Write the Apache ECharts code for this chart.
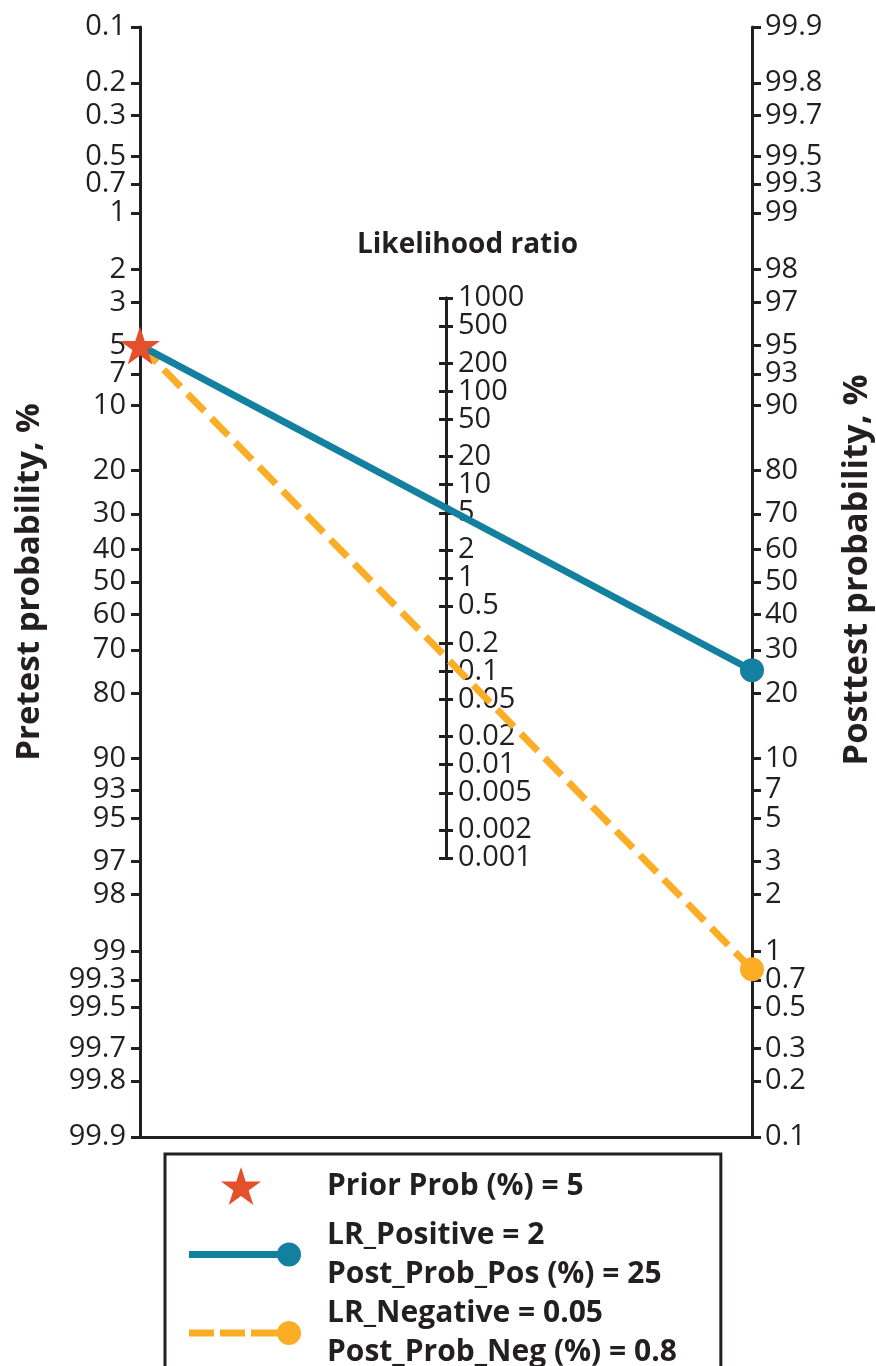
<!DOCTYPE html>
<html>
<head>
<meta charset="utf-8">
<title>Fagan nomogram</title>
<script src="https://cdn.jsdelivr.net/npm/echarts@6/dist/echarts.min.js"></script>
<style>
  html, body { margin: 0; padding: 0; background: #fff; }
  #chart { width: 876px; height: 1366px; }
</style>
</head>
<body>
<div id="chart"></div>
<script>
// 刻度：验前概率、验后概率（%）和似然比
const pretestTicks = [0.1, 0.2, 0.3, 0.5, 0.7, 1, 2, 3, 5, 7, 10, 20, 30, 40, 50, 60, 70, 80, 90, 93, 95, 97, 98, 99, 99.3, 99.5, 99.7, 99.8, 99.9];
const posttestTicks = [99.9, 99.8, 99.7, 99.5, 99.3, 99, 98, 97, 95, 93, 90, 80, 70, 60, 50, 40, 30, 20, 10, 7, 5, 3, 2, 1, 0.7, 0.5, 0.3, 0.2, 0.1];
const lrTicks = [1000, 500, 200, 100, 50, 20, 10, 5, 2, 1, 0.5, 0.2, 0.1, 0.05, 0.02, 0.01, 0.005, 0.002, 0.001];
// 紧挨着两端的标签放到另一条轴上，免得被 ECharts 当作重叠隐藏
const lrEdgeNeighbours = [500, 0.002];

// 数据
const priorProb = 5;
const lrPositive = 2;
const postProbPos = 25;
const lrNegative = 0.05;
const postProbNeg = 0.8;

const legendNames = ['Prior Prob', 'LR_Positive', 'LR_Negative'];
const legendTexts = [
    'Prior Prob (%) = ' + priorProb,
    'LR_Positive = ' + lrPositive + '\nPost_Prob_Pos (%) = ' + postProbPos,
    'LR_Negative = ' + lrNegative + '\nPost_Prob_Neg (%) = ' + postProbNeg
];

const FONT = "'Open Sans', sans-serif";
const INK = '#231f20';
const BLUE = '#13809f';
const ORANGE = '#fbad26';
const RED = '#e4502c';

// 概率轴用 logit 刻度，似然比轴用 ln 刻度
const logit = p => Math.log(p / (100 - p));
const fromLogit = v => 100 / (1 + Math.exp(-v));
const pMin = logit(pretestTicks[0]);
const pMax = logit(pretestTicks[pretestTicks.length - 1]);
const EPS = 1e-6;
const lrMax = Math.log(lrTicks[0]) + EPS;
const lrMin = Math.log(lrTicks[lrTicks.length - 1]) - EPS;

const fmtProb = v => String(Number(fromLogit(v).toFixed(1)));
const fmtLR = v => String(Number(Math.exp(v).toPrecision(2)));

// 五角星路径（中心 cx, cy，外半径 R）
function starPoints(cx, cy, R) {
    const pts = [];
    for (let i = 0; i < 10; i++) {
        const r = i % 2 === 0 ? R : R * 0.382;
        const a = -Math.PI / 2 + i * Math.PI / 5;
        pts.push((cx + r * Math.cos(a)).toFixed(2) + ' ' + (cy + r * Math.sin(a)).toFixed(2));
    }
    return 'M' + pts.join(' L') + ' Z';
}
const STAR = 'path://' + starPoints(50, 50, 50);

// 图例图标（112 x 40），前两段是空路径，只用来撑开包围盒
const box = 'M0 0 Z M112 40 Z ';
const circleSeg = 'M88 20 A12 12 0 1 1 112 20 A12 12 0 1 1 88 20 Z';
const STAR_ICON = 'path://' + box + starPoints(52, 22, 21);
const BLUE_ICON = 'path://' + box + 'M0 16.5 H90 V23.5 H0 Z ' + circleSeg;
const ORANGE_ICON = 'path://' + box + 'M0 16.5 H25 V23.5 H0 Z M31 16.5 H56 V23.5 H31 Z M62 16.5 H90 V23.5 H62 Z ' + circleSeg;

const axisLineStyle = { show: true, onZero: false, lineStyle: { color: INK, width: 3 } };
const tickLabel = { fontFamily: FONT, fontSize: 29, lineHeight: 20, color: INK, showMinLabel: true, showMaxLabel: true };
const nameStyle = { fontFamily: FONT, fontSize: 33, fontWeight: 'bold', color: INK };
const legendText = { fontFamily: FONT, fontSize: 30, fontWeight: 'bold', color: INK,
                     lineHeight: 39, padding: [0, 0, 0, 21] };

const lrLabelMain = lrTicks.filter(v => lrEdgeNeighbours.indexOf(v) < 0);

const chart = echarts.init(document.getElementById('chart'));

const option = {
    animation: false,
    backgroundColor: '#fff',
    title: {
        text: 'Likelihood ratio',
        left: 352,
        top: 226,
        textStyle: { fontFamily: FONT, fontSize: 28, fontWeight: 'bold', color: INK }
    },
    grid: [
        { left: 140, right: 124, top: 27, bottom: 229, outerBoundsMode: 'none' },
        { left: 446, width: 0, top: 298, height: 560, outerBoundsMode: 'none' }
    ],
    xAxis: [
        { gridIndex: 0, type: 'value', min: 0, max: 1, axisLine: axisLineStyle,
          axisTick: { show: false }, axisLabel: { show: false }, splitLine: { show: false } },
        { gridIndex: 1, type: 'value', min: 0, max: 1, show: false }
    ],
    yAxis: [
        {   // 验前概率（左）
            gridIndex: 0, type: 'value', position: 'left', inverse: true,
            min: pMin, max: pMax,
            name: 'Pretest probability, %', nameLocation: 'middle', nameRotate: 90, nameGap: 94,
            nameMoveOverlap: false, nameTextStyle: nameStyle,
            axisLine: axisLineStyle,
            axisTick: { show: true, length: 9, lineStyle: { color: INK, width: 3 },
                        customValues: pretestTicks.map(logit) },
            axisLabel: Object.assign({ margin: 14, formatter: fmtProb,
                        customValues: pretestTicks.map(logit) }, tickLabel),
            splitLine: { show: false }
        },
        {   // 验后概率（右）
            gridIndex: 0, type: 'value', position: 'right',
            min: pMin, max: pMax,
            name: 'Posttest probability, %', nameLocation: 'middle', nameRotate: 90, nameGap: 88,
            nameMoveOverlap: false,
            nameTextStyle: Object.assign({}, nameStyle, { fontSize: 34.5, padding: [0, 0, 0, 24] }),
            axisLine: axisLineStyle,
            axisTick: { show: true, length: 9, lineStyle: { color: INK, width: 3 },
                        customValues: posttestTicks.map(logit) },
            axisLabel: Object.assign({ margin: 13, formatter: fmtProb,
                        customValues: posttestTicks.map(logit) }, tickLabel),
            splitLine: { show: false }
        },
        {   // 似然比（中间，左侧刻度）
            gridIndex: 1, type: 'value', position: 'left', min: lrMin, max: lrMax,
            axisLine: axisLineStyle,
            axisTick: { show: true, length: 7, lineStyle: { color: INK, width: 3 },
                        customValues: lrTicks.map(Math.log) },
            axisLabel: { show: false },
            splitLine: { show: false }
        },
        {   // 似然比（中间，右侧刻度 + 标签）
            gridIndex: 1, type: 'value', position: 'right', min: lrMin, max: lrMax,
            axisLine: axisLineStyle,
            axisTick: { show: true, length: 7, lineStyle: { color: INK, width: 3 },
                        customValues: lrTicks.map(Math.log) },
            axisLabel: Object.assign({ margin: 12, formatter: fmtLR,
                        customValues: lrLabelMain.map(Math.log) }, tickLabel),
            splitLine: { show: false }
        },
        {   // 似然比（中间，补上 500 和 0.002 的标签）
            gridIndex: 1, type: 'value', position: 'right', min: lrMin, max: lrMax,
            axisLine: { show: false },
            axisTick: { show: false },
            axisLabel: Object.assign({ margin: 12, formatter: fmtLR,
                        customValues: lrEdgeNeighbours.map(Math.log) }, tickLabel),
            splitLine: { show: false }
        }
    ],
    legend: {
        orient: 'vertical',
        left: 165,
        top: 1154,
        height: 300,
        padding: [3, 44, 80, 24],
        borderColor: INK,
        borderWidth: 3,
        itemWidth: 112,
        itemHeight: 40,
        itemGap: 0.5,
        selectedMode: false,
        itemStyle: { borderWidth: 0 },
        data: [
            { name: legendNames[0], icon: STAR_ICON, textStyle: Object.assign({}, legendText, { lineHeight: 58 }) },
            { name: legendNames[1], icon: BLUE_ICON },
            { name: legendNames[2], icon: ORANGE_ICON }
        ],
        formatter: name => legendTexts[legendNames.indexOf(name)],
        textStyle: legendText
    },
    series: [
        {
            // 右端点：验后刻度是验前刻度的镜像，所以取 -logit
            name: legendNames[2], type: 'line', xAxisIndex: 0, yAxisIndex: 0, clip: false,
            data: [{ value: [0, logit(priorProb)], symbol: 'none' }, { value: [1, -logit(postProbNeg)] }],
            symbol: 'circle', symbolSize: 24,
            lineStyle: { color: ORANGE, width: 7, type: [24, 10] },
            itemStyle: { color: ORANGE }
        },
        {
            name: legendNames[1], type: 'line', xAxisIndex: 0, yAxisIndex: 0, clip: false,
            data: [{ value: [0, logit(priorProb)], symbol: 'none' }, { value: [1, -logit(postProbPos)] }],
            symbol: 'circle', symbolSize: 24,
            lineStyle: { color: BLUE, width: 7 },
            itemStyle: { color: BLUE }
        },
        {
            name: legendNames[0], type: 'scatter', xAxisIndex: 0, yAxisIndex: 0, clip: false, z: 5,
            data: [[0, logit(priorProb)]],
            symbol: STAR, symbolSize: [40, 38],
            itemStyle: { color: RED, opacity: 1 }
        }
    ]
};

chart.setOption(option);
</script>
</body>
</html>
